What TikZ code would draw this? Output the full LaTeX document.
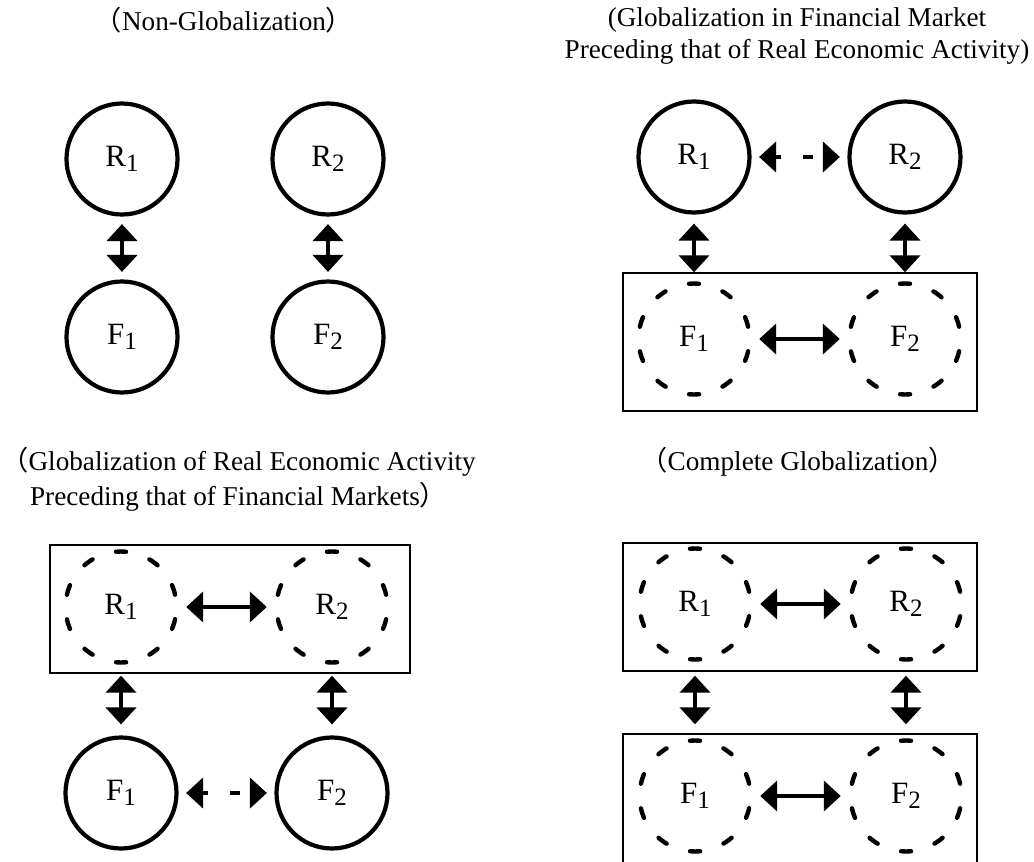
\documentclass[tikz,border=0pt]{standalone}
\usepackage{fontspec}
\setmainfont{Liberation Serif}
\newfontfamily\cjk{Noto Sans CJK JP}
\usetikzlibrary{arrows.meta}
\def\lp{{\cjk （}}
\def\rp{{\cjk ）}}
\def\lab#1#2{#1\raisebox{-2.5pt}{\fontsize{12.5}{12.5}\selectfont #2}}

\tikzset{
	solidc/.style={circle, draw, line width=2.1pt, minimum size=55.5pt, inner sep=0pt, font=\fontsize{15.5}{15.5}\selectfont},
	dashc/.style={solidc, line width=2.2pt, line cap=round, dash pattern=on 5pt off 12.436pt, dash phase=11.22pt},
	link/.style={line width=2.2pt, {Triangle[length=8.5pt,width=15pt]}-{Triangle[length=8.5pt,width=15pt]}, shorten <=#1, shorten >=#1},
	weaklink/.style={link=#1, dash pattern=on 3pt off 11pt on 5pt off 20pt},
	title/.style={align=center, inner sep=0pt, font=\fontsize{13.6}{16}\selectfont},
	group/.style={line width=0.75pt}
}

\begin{document}
\begin{tikzpicture}[x=0.5pt, y=-0.5pt]
		%%%%% START %%%%%
		\useasboundingbox (0, 0) rectangle (1034, 862);
		
		% non-globalization
		\node[title] (ta) at (224, 20) {\lp Non-Globalization\rp};
		\node[solidc] (r1a) at (122, 159) {\lab{R}{1}};
		\node[solidc] (r2a) at (328, 159) {\lab{R}{2}};
		\node[solidc] (f1a) at (122, 337) {\lab{F}{1}};
		\node[solidc] (f2a) at (328, 337) {\lab{F}{2}};
		\draw[link=3.75pt] (r1a) -- (f1a);
		\draw[link=3.75pt] (r2a) -- (f2a);
		
		% financial first
		\node[title, font=\fontsize{13.6}{16}\selectfont] (tb) at (797, 36) {(Globalization in Financial Market\\Preceding that of Real Economic Activity)};
		\draw[group] (623, 273) rectangle (977, 411);
		\node[solidc] (r1b) at (694, 157) {\lab{R}{1}};
		\node[solidc] (r2b) at (905, 157) {\lab{R}{2}};
		\node[dashc] (f1b) at (694, 339) {\lab{F}{1}};
		\node[dashc] (f2b) at (905, 339) {\lab{F}{2}};
		\draw[weaklink=3.75pt] (r1b) -- (r2b);
		\draw[link=3.75pt] (f1b) -- (f2b);
		\draw[link=4.5pt] (r1b) -- (f1b);
		\draw[link=4.5pt] (r2b) -- (f2b);
		
		% real first
		\node[title, anchor=west, font=\fontsize{13.6}{17.5}\selectfont] (tc) at (1, 479) {\lp Globalization of Real Economic Activity\\Preceding that of Financial Markets\rp};
		\draw[group] (50, 545) rectangle (410, 673);
		\node[dashc] (r1c) at (121, 607) {\lab{R}{1}};
		\node[dashc] (r2c) at (332, 607) {\lab{R}{2}};
		\node[solidc] (f1c) at (121, 793) {\lab{F}{1}};
		\node[solidc] (f2c) at (332, 793) {\lab{F}{2}};
		\draw[link=3.75pt] (r1c) -- (r2c);
		\draw[weaklink=3.75pt] (f1c) -- (f2c);
		\draw[link=5.5pt] (r1c) -- (f1c);
		\draw[link=5.5pt] (r2c) -- (f2c);
		
		% complete
		\node[title] (td) at (798, 462) {\lp Complete Globalization\rp};
		\draw[group] (623, 543) rectangle (977, 671);
		\draw[group] (623, 734) rectangle (977, 870);
		\node[dashc] (r1d) at (695, 604) {\lab{R}{1}};
		\node[dashc] (r2d) at (906, 604) {\lab{R}{2}};
		\node[dashc] (f1d) at (695, 796) {\lab{F}{1}};
		\node[dashc] (f2d) at (906, 796) {\lab{F}{2}};
		\draw[link=3.75pt] (r1d) -- (r2d);
		\draw[link=3.75pt] (f1d) -- (f2d);
		\draw[link=7pt] (r1d) -- (f1d);
		\draw[link=7pt] (r2d) -- (f2d);
		
		%%%%% END %%%%%
	\end{tikzpicture}
\end{document}
